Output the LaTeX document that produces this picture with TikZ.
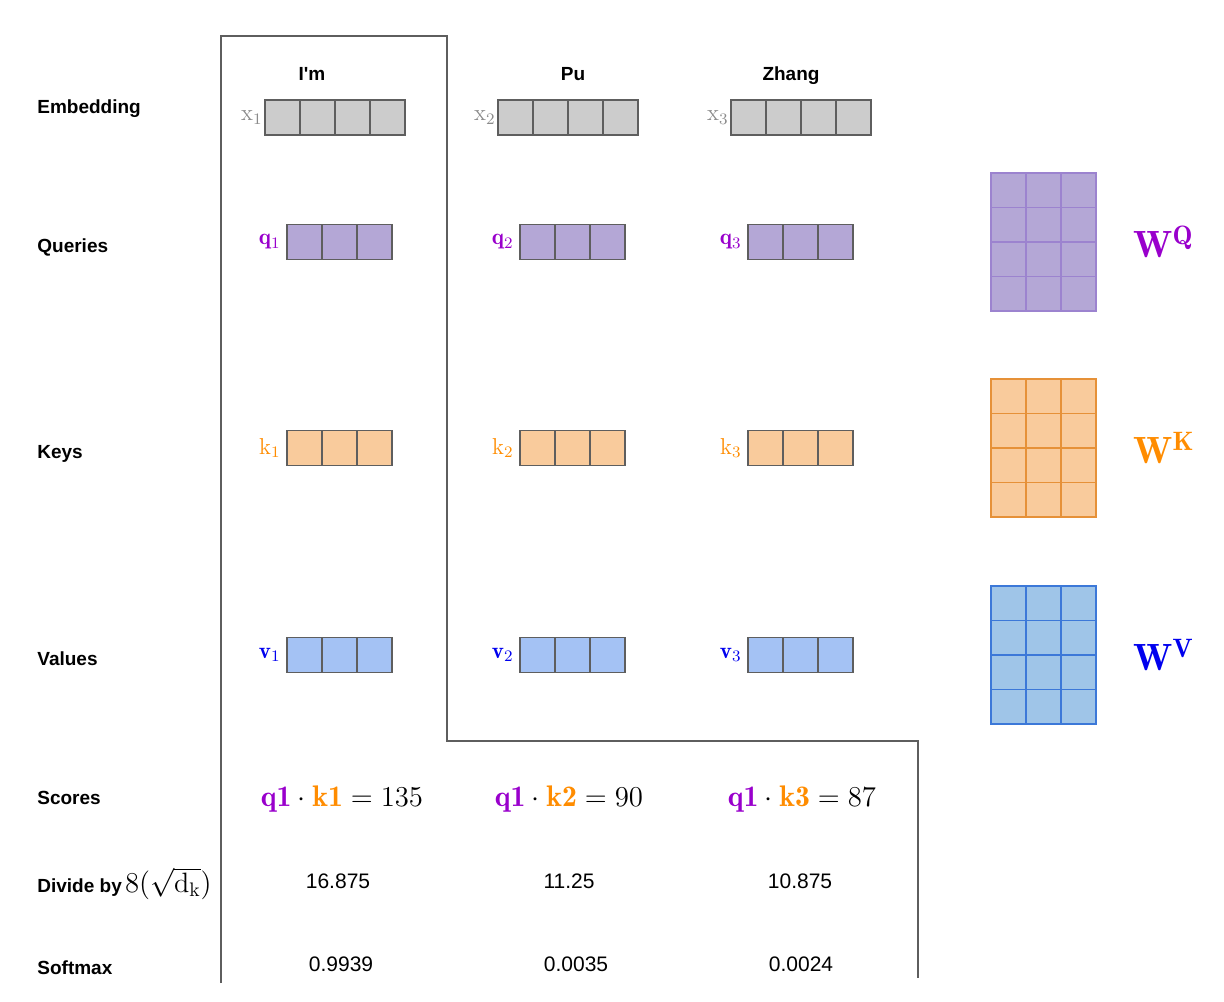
\documentclass[tikz,border=0pt]{standalone}
\usepackage{amsmath}
\usepackage{fontspec}
\setsansfont{Liberation Sans}
\usepackage{tikz}
\usetikzlibrary{positioning}
\definecolor{cemb}{HTML}{CCCCCC}
\definecolor{cq}{HTML}{B4A7D6}
\definecolor{ck}{HTML}{F9CB9C}
\definecolor{cv}{HTML}{A4C2F4}
\definecolor{cwv}{HTML}{9FC5E8}
\definecolor{cedge}{HTML}{5E5E5E}
\definecolor{cwqe}{HTML}{9C83CF}
\definecolor{cwke}{HTML}{E69138}
\definecolor{cwve}{HTML}{3C78D8}
\definecolor{cqt}{HTML}{9900CC}
\definecolor{ckt}{HTML}{FF8C00}
\definecolor{cvt}{HTML}{0000EE}
\definecolor{cxt}{HTML}{8A8A8A}
\definecolor{cframe}{HTML}{5E5E5E}
\tikzset{
  cell/.style={draw=cedge, line width=0.9pt, minimum width=17.5pt, minimum height=17.5pt, inner sep=0pt, outer sep=0pt},
  embc/.style={cell, fill=cemb},
  qc/.style={cell, fill=cq},
  kc/.style={cell, fill=ck},
  vc/.style={cell, fill=cv},
  mcell/.style={cell, minimum height=17.25pt},
  wqc/.style={mcell, fill=cq, draw=cwqe},
  wkc/.style={mcell, fill=ck, draw=cwke},
  wvc/.style={mcell, fill=cwv, draw=cwve},
  rowlbl/.style={anchor=base west, inner sep=0pt, font=\sffamily\bfseries\fontsize{9.5}{11}\selectfont},
  word/.style={anchor=base, font=\sffamily\bfseries\fontsize{9.5}{11}\selectfont},
  num/.style={font=\sffamily\fontsize{10.5}{12}\selectfont},
  score/.style={anchor=base, font=\fontsize{14.9}{18}\selectfont},
  veclbl/.style={inner sep=1pt, font=\fontsize{11.5}{13}\selectfont},
  wlbl/.style={anchor=base west, inner sep=0pt, font=\fontsize{19}{22}\selectfont},
  frame/.style={draw=cframe, line width=0.9pt},
}

\begin{document}
\begin{tikzpicture}[x=0.5pt,y=-0.5pt]
\useasboundingbox (0,0) rectangle (1224,1001);
\def\cells#1#2#3#4#5{% name, style, count, left x, mid y
  \foreach \i in {1,...,#3}
    \node[#2] (#1c\i) at ({#4+35*\i-17.5},#5) {};
}
\def\wmat#1#2#3{% name, style, top y
  \foreach \r in {1,...,4}
    \foreach \c in {1,...,3}
      \node[#2] (#1r\r c\c) at ({991+35*\c-17.5},{#3+34.5*\r-17.25}) {};
}
% frame round the first word
\draw[frame] (221,983) -- (221,36) -- (447,36) -- (447,741) -- (918,741) -- (918,978);
% row names
\node[rowlbl] (lemb) at (37,113) {Embedding};
\node[rowlbl] (lq) at (37,252) {Queries};
\node[rowlbl] (lk) at (37,458) {Keys};
\node[rowlbl] (lv) at (37,665) {Values};
\node[rowlbl] (lsc) at (37,804) {Scores};
\node[rowlbl] (ldiv) at (37,892) {Divide by\,{\rmfamily\mdseries\fontsize{14}{17}\selectfont$8(\sqrt{\mathrm{d}_\mathrm{k}})$}};
\node[rowlbl] (lsm) at (37,974) {Softmax};
% words
\node[word] (w1) at (312,80) {I\textquotesingle m};
\node[word] (w2) at (573,80) {Pu};
\node[word] (w3) at (791,80) {Zhang};
% embeddings
\cells{x1}{embc}{4}{265}{117.5}
\cells{x2}{embc}{4}{498}{117.5}
\cells{x3}{embc}{4}{731}{117.5}
\node[veclbl, text=cxt, left=0pt of x1c1] (x1l) {$\mathrm{x}_1$};
\node[veclbl, text=cxt, left=0pt of x2c1] (x2l) {$\mathrm{x}_2$};
\node[veclbl, text=cxt, left=0pt of x3c1] (x3l) {$\mathrm{x}_3$};
% queries
\cells{q1}{qc}{3}{287}{242}
\cells{q2}{qc}{3}{520}{242}
\cells{q3}{qc}{3}{748}{242}
\node[veclbl, text=cqt, left=2pt of q1c1] (q1l) {$\mathbf{q}_1$};
\node[veclbl, text=cqt, left=2pt of q2c1] (q2l) {$\mathbf{q}_2$};
\node[veclbl, text=cqt, left=2pt of q3c1] (q3l) {$\mathbf{q}_3$};
% keys
\cells{k1}{kc}{3}{287}{448}
\cells{k2}{kc}{3}{520}{448}
\cells{k3}{kc}{3}{748}{448}
\node[veclbl, text=ckt, left=2pt of k1c1] (k1l) {$\mathrm{k}_1$};
\node[veclbl, text=ckt, left=2pt of k2c1] (k2l) {$\mathrm{k}_2$};
\node[veclbl, text=ckt, left=2pt of k3c1] (k3l) {$\mathrm{k}_3$};
% values
\cells{v1}{vc}{3}{287}{655}
\cells{v2}{vc}{3}{520}{655}
\cells{v3}{vc}{3}{748}{655}
\node[veclbl, text=cvt, left=2pt of v1c1] (v1l) {$\mathbf{v}_1$};
\node[veclbl, text=cvt, left=2pt of v2c1] (v2l) {$\mathbf{v}_2$};
\node[veclbl, text=cvt, left=2pt of v3c1] (v3l) {$\mathbf{v}_3$};
% weight matrices
\wmat{wq}{wqc}{173}
\wmat{wk}{wkc}{379}
\wmat{wv}{wvc}{586}
\node[wlbl, text=cqt] (wql) at (1133,257) {$\mathbf{W}^{\mathbf{Q}}$};
\node[wlbl, text=ckt] (wkl) at (1133,463) {$\mathbf{W}^{\mathbf{K}}$};
\node[wlbl, text=cvt] (wvl) at (1133,670) {$\mathbf{W}^{\mathbf{V}}$};
% scores
\node[score] (s1) at (342,806) {${\color{cqt}\mathbf{q1}}\cdot{\color{ckt}\mathbf{k1}}=135$};
\node[score] (s2) at (569,806) {${\color{cqt}\mathbf{q1}}\cdot{\color{ckt}\mathbf{k2}}=90$};
\node[score] (s3) at (802,806) {${\color{cqt}\mathbf{q1}}\cdot{\color{ckt}\mathbf{k3}}=87$};
\node[num] (d1) at (338,881) {16.875};
\node[num] (d2) at (569,881) {11.25};
\node[num] (d3) at (800,881) {10.875};
\node[num] (p1) at (341,964) {0.9939};
\node[num] (p2) at (576,964) {0.0035};
\node[num] (p3) at (801,964) {0.0024};
\end{tikzpicture}
\end{document}
